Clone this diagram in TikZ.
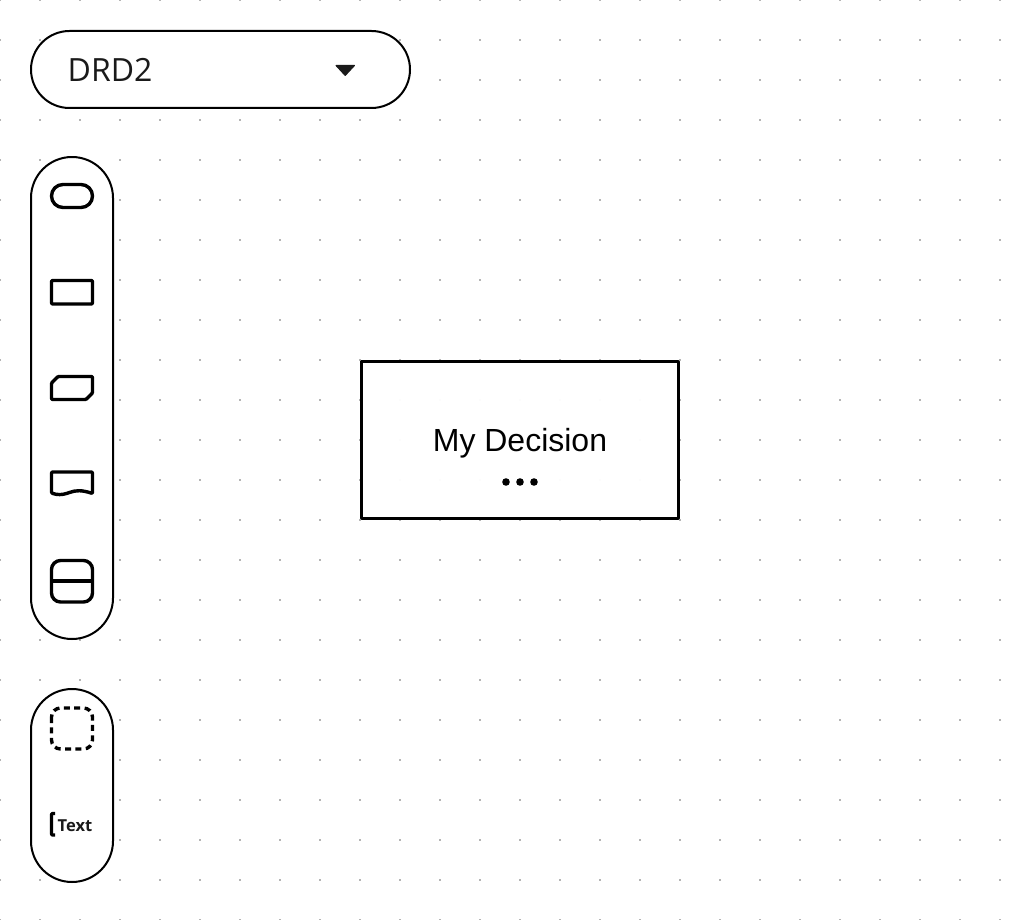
\documentclass[tikz,border=0pt]{standalone}
\usepackage{fontspec}
\setmainfont{Liberation Sans}
\newfontfamily\toolfont{Open Sans}
\definecolor{griddot}{HTML}{B4B4B4}
\definecolor{toolink}{HTML}{1A1A1A}

\begin{document}
\begin{tikzpicture}[
  x=1pt,
  y=-1pt,
  line join=round,
  pillbar/.style={draw=black,line width=2pt,fill=white},
  toolicon/.style={draw=black,line width=3.4pt},
  dashicon/.style={toolicon,dash pattern=on 6pt off 4.4pt},
  decisionbox/.style={draw=black,line width=3pt,fill=white,fill opacity=0.96,text opacity=1,
    minimum width=317pt,minimum height=157pt,inner sep=0pt}
]
  % Match the original frame.
  \useasboundingbox (0,0) rectangle (1030,920);
  \fill[white] (0,0) rectangle (1030,920);

  % Canvas dot grid.
  \foreach \dotx in {0,40,...,1000}
    \foreach \doty in {0,40,...,920}
      \fill[griddot] (\dotx-1,\doty-1) rectangle (\dotx+1,\doty+1);

  % Diagram selector.
  \draw[pillbar,rounded corners=38.5pt] (31,31) rectangle (410,108);
  \node[anchor=base west,inner sep=0pt,text=toolink,font=\toolfont\fontsize{32}{36}\selectfont] (drdname) at (67.5,81.5) {DRD2};
  \fill[toolink,draw=toolink,line width=1pt] (336,65.5) -- (354.5,65.5) -- (345.2,75.5) -- cycle;

  % Element palette.
  \draw[pillbar,rounded corners=41pt] (31,157) rectangle (113,639);
  \draw[toolicon,rounded corners=11.5pt] (51.5,184.5) rectangle (92.5,207.5);
  \draw[toolicon,rounded corners=1pt] (51.5,280.5) rectangle (92.5,304);
  \draw[toolicon,rounded corners=1pt] (58,376.5) -- (92.5,376.5) -- (92.5,393) -- (86,399.5)
    -- (51.5,399.5) -- (51.5,383) -- cycle;
  \draw[toolicon,rounded corners=1pt] (51.5,472) -- (92.5,472) -- (92.5,493.5)
    .. controls (82,490) and (76,490) .. (68,493) .. controls (62,495) and (57,495) .. (51.5,493) -- cycle;
  \draw[toolicon,rounded corners=9pt] (51.5,560.5) rectangle (92.5,602);
  \draw[toolicon] (51.5,581) -- (92.5,581);

  % Annotation palette.
  \draw[pillbar,rounded corners=41pt] (31,689) rectangle (113,882);
  \draw[dashicon,rounded corners=9pt] (51.5,708) rectangle (92.5,749);
  \draw[toolicon,rounded corners=1pt] (55,813.5) -- (51.5,813.5) -- (51.5,835) -- (55,835);
  \node[anchor=base west,inner sep=0pt,text=toolink,font=\toolfont\bfseries\fontsize{16.5}{18}\selectfont] (textlabel) at (57.5,831.5) {Text};

  % Decision on the canvas.
  \node[decisionbox] (decision) at (520,440) {};
  \node[anchor=base,inner sep=0pt,font=\fontsize{32}{36}\selectfont] (decisionname) at (520,451) {My Decision};
  \foreach \menux in {506,520,534}
    \fill[black] (\menux,482) circle[radius=3.8pt];
\end{tikzpicture}
\end{document}
